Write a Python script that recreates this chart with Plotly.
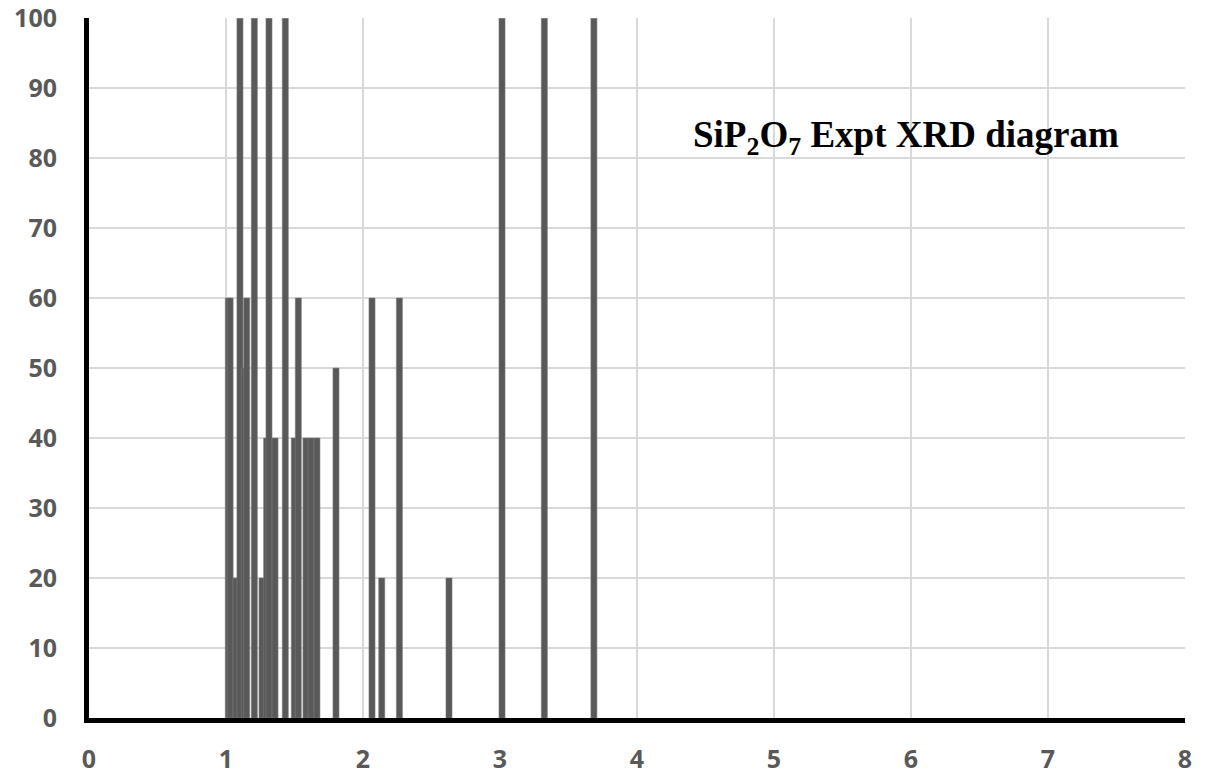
import plotly.graph_objects as go

two_theta = [1.017, 1.030, 1.073, 1.102, 1.134, 1.151, 1.207, 1.263, 1.297, 1.314,
             1.358, 1.433, 1.499, 1.528, 1.584, 1.621, 1.664, 1.803, 2.066, 2.137,
             2.266, 2.628, 3.015, 3.324, 3.686]
intensity = [60, 60, 20, 100, 50, 60, 100, 20, 40, 100,
             40, 100, 40, 60, 40, 40, 40, 50, 60, 20,
             60, 20, 100, 100, 100]

x_ticks = [0, 1, 2, 3, 4, 5, 6, 7, 8]
y_ticks = [0, 10, 20, 30, 40, 50, 60, 70, 80, 90, 100]
title_text = "SiP<sub>2</sub>O<sub>7</sub> Expt XRD diagram"

fig = go.Figure()
fig.add_trace(go.Bar(
    x=two_theta, y=intensity, width=0.044,
    marker=dict(color="#595959", line=dict(color="#7a7a7a", width=0.6)),
    showlegend=False,
))

tick_font = dict(family="Open Sans", size=25, color="#595959", weight="bold")

fig.update_layout(
    width=1206, height=778,
    margin=dict(l=89, r=21, t=18, b=60),
    paper_bgcolor="white", plot_bgcolor="white",
    barmode="overlay",
    xaxis=dict(range=[0, 8.001], tickvals=x_ticks, showgrid=True, gridcolor="#d9d9d9",
               gridwidth=1.5, showline=True, linecolor="black", linewidth=5,
               zeroline=False, tickfont=tick_font, ticks="", ticklabelstandoff=15,
               automargin=False, ticklabeloverflow="allow"),
    yaxis=dict(range=[0, 100.02], tickvals=y_ticks, showgrid=True, gridcolor="#d9d9d9",
               gridwidth=1.5, showline=True, linecolor="black", linewidth=5,
               zeroline=False, tickfont=tick_font, ticks="", ticklabelstandoff=22,
               automargin=False, ticklabeloverflow="allow"),
    annotations=[dict(
        x=0.745, y=0.829, xref="paper", yref="paper", xanchor="center", yanchor="middle",
        text=title_text, showarrow=False,
        font=dict(family="Liberation Serif", size=37, color="black", weight="bold"),
    )],
)

fig.write_html("out.html")
